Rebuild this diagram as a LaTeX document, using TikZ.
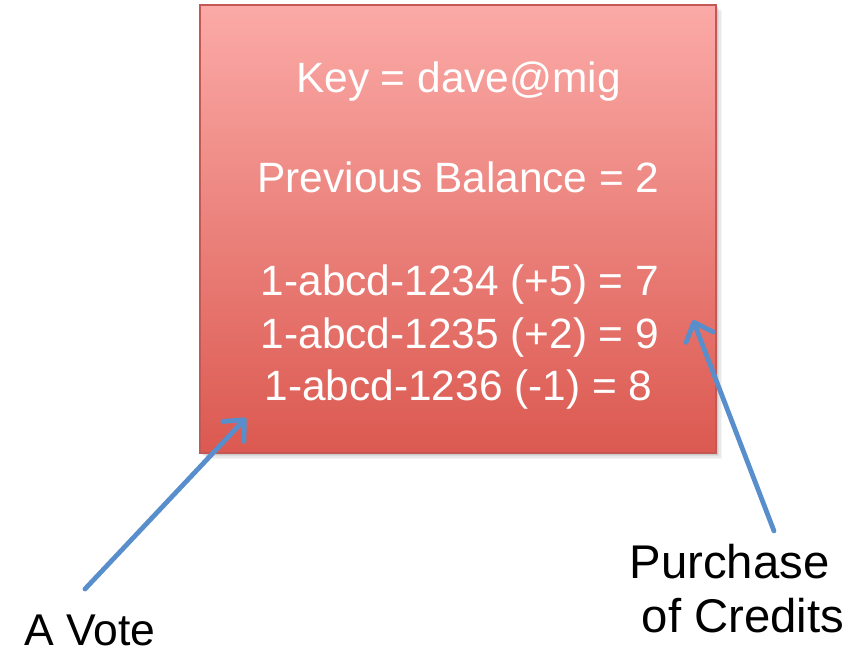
\documentclass[tikz,border=0pt]{standalone}
\usepackage{fontspec}
\setmainfont{Liberation Sans}
\usetikzlibrary{arrows.meta}
\definecolor{cardtop}{RGB}{251,170,167}
\definecolor{cardbottom}{RGB}{219,89,80}
\definecolor{cardedge}{RGB}{196,88,84}
\definecolor{arrowblue}{RGB}{88,142,203}
\begin{document}
\begin{tikzpicture}[x=1pt,y=-1pt,
  cardtext/.style={text=white, font=\fontsize{42.4}{50}\selectfont, anchor=base, inner sep=0pt},
  bigcaption/.style={text=black, font=\fontsize{47.3}{56}\selectfont, anchor=base, inner sep=0pt},
  pointer/.style={draw=arrowblue, line width=4.8pt, line cap=round,
    -{Straight Barb[length=16pt,width=29pt,line cap=round,line join=round]}}
]
\useasboundingbox (0,0) rectangle (859,655);

% soft drop shadow behind the card
\foreach \o/\a in {6/0.04,4.5/0.05,3/0.06,1.5/0.07}{
  \fill[black,opacity=\a] (200+\o,5+\o) rectangle (716+\o,453+\o);
}

% the ledger card
\node[draw=cardedge, line width=1.2pt, top color=cardtop, bottom color=cardbottom,
      minimum width=516pt, minimum height=448pt, inner sep=0pt] (card) at (458,229) {};

\node[cardtext] (key)  at (458.5,93)  {Key = dave@mig};
\node[cardtext] (prev) at (458.5,193) {Previous Balance = 2};
\node[cardtext] (tx1)  at (460,295)   {1-abcd-1234 (+5) = 7};
\node[cardtext] (tx2)  at (460,348)   {1-abcd-1235 (+2) = 9};
\node[cardtext] (tx3)  at (458.5,400) {1-abcd-1236 (-1) = 8};

% captions
\node[bigcaption] (buy1) at (729.5,578) {Purchase};
\node[bigcaption] (buy2) at (743,632)   {of Credits};
\node[bigcaption, font=\fontsize{44.5}{52}\selectfont] (vote) at (90,645) {A Vote};

% pointers into the card
\coordinate (voteTail) at (85,589);
\coordinate (voteTip)  at (246,418);
\coordinate (buyTail)  at (774,531);
\coordinate (buyTip)   at (693,320);
\draw[pointer] (voteTail) -- (voteTip);
\draw[pointer] (buyTail) -- (buyTip);
\end{tikzpicture}
\end{document}
